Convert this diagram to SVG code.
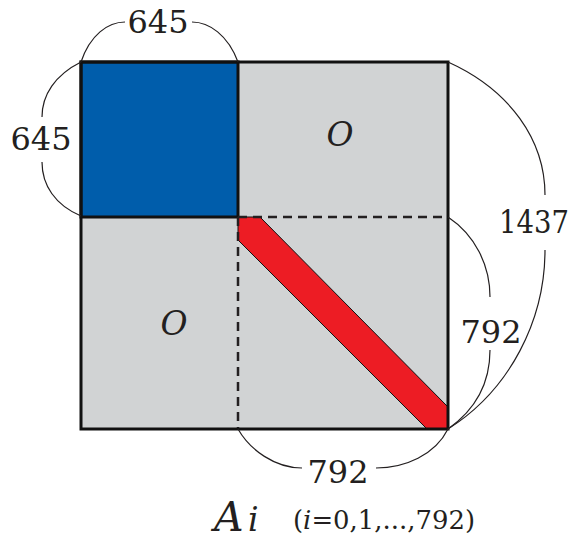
<svg xmlns="http://www.w3.org/2000/svg" width="575" height="539" viewBox="0 0 575 539">
<style>
.num{font-size:32px;fill:#231f20;text-anchor:middle}
.it{font-style:italic;fill:#231f20}
.brace{fill:none;stroke:#231f20;stroke-width:1.2}
.dash{fill:none;stroke:#231f20;stroke-width:2.5;stroke-dasharray:9,6}
.serif{font-family:"DejaVu Serif","Liberation Serif",serif}
</style>
<rect width="575" height="539" fill="#fff"/>
<g id="matrix">
<rect x="81" y="62" width="367" height="367" fill="#d1d3d4"/>
</g>
<g id="block-blue">
<rect x="81" y="62" width="157" height="155" fill="#005dab" stroke="#111" stroke-width="3"/>
</g>
<g id="band-red">
<polygon points="238,217 260,217 448,407 448,429 427,429 238,240" fill="#ed1c24" stroke="#111" stroke-width="1"/>
</g>
<g id="dashes">
<path class="dash" d="M238,217 H448 M238,217 V429"/>
</g>
<g id="outline">
<rect x="81" y="62" width="367" height="367" fill="none" stroke="#111" stroke-width="3"/>
</g>
<g id="labels-O" class="serif">
<text class="it" x="340" y="146" font-size="33" text-anchor="middle">O</text>
<text class="it" x="174" y="335" font-size="33" text-anchor="middle">O</text>
</g>
<g id="connectors">
<path class="brace" d="M81,62 C90,35 108,22 125,22 M192,22 C209,22 228,35 238,62"/>
<path class="brace" d="M81,62 C55,75 42,95 42,117 M42,162 C42,185 55,205 81,216"/>
<path class="brace" d="M448,62 C510,90 545,140 545,195 M545,250 C545,320 510,390 448,429"/>
<path class="brace" d="M448,217 C475,235 490,265 490,297 M490,350 C490,385 475,410 448,429"/>
<path class="brace" d="M238,429 C250,450 275,468 302,468 M376,468 C405,468 435,455 448,429"/>
</g>
<g id="dim-labels" class="serif">
<text class="num" x="158" y="33">645</text>
<text class="num" x="41" y="150">645</text>
<text class="num" x="534" y="233" textLength="70" lengthAdjust="spacingAndGlyphs">1437</text>
<text class="num" x="491" y="343">792</text>
<text class="num" x="338" y="483">792</text>
</g>
<g id="caption" class="serif">
<text class="it" x="214" y="531" font-size="41">A</text>
<text class="it" x="248" y="531" font-size="33">i</text>
<text x="293" y="529" font-size="26" fill="#231f20" textLength="182" lengthAdjust="spacingAndGlyphs">(<tspan font-style="italic">i</tspan>=0,1,...,792)</text>
</g>
</svg>
